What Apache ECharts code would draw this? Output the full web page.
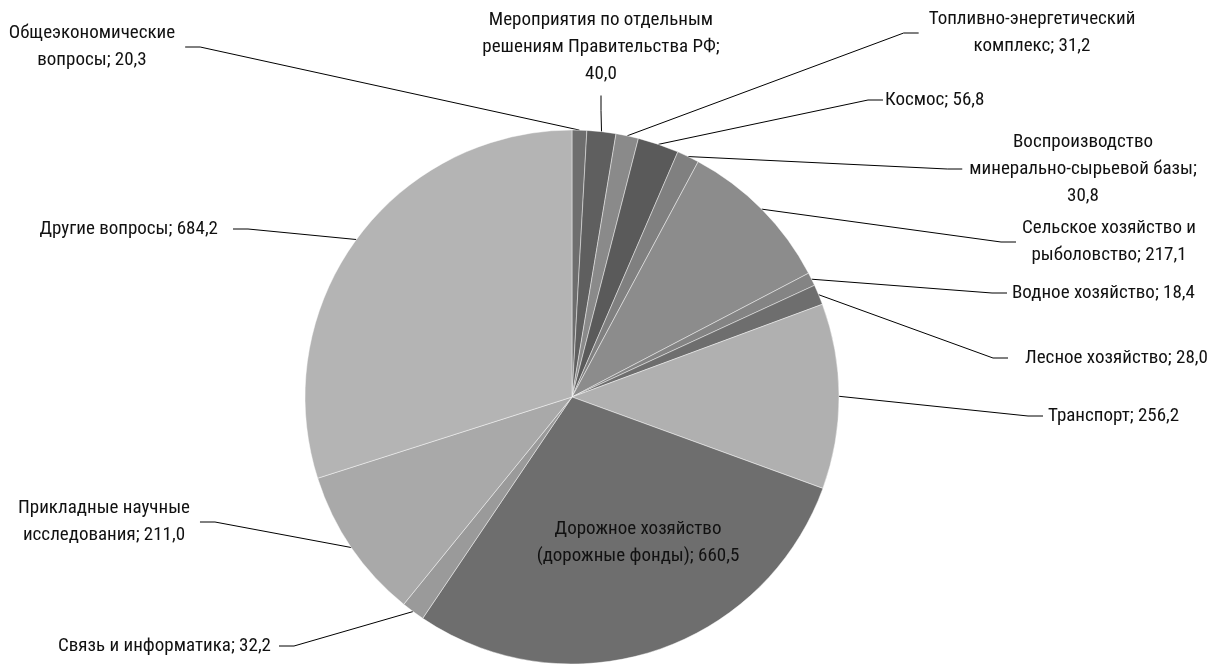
<!DOCTYPE html>
<html>
<head>
<meta charset="utf-8">
<script src="https://cdn.jsdelivr.net/npm/echarts@6/dist/echarts.min.js"></script>
<style>
html,body{margin:0;padding:0;background:#fff;}
#chart{width:1209px;height:664px;}
</style>
</head>
<body>
<div id="chart"></div>
<script>
// Categories (clockwise from 12 o'clock); "\n" marks the line wraps of the label
const categories = [
  'Общеэкономические\nвопросы',
  'Мероприятия по отдельным\nрешениям Правительства РФ',
  'Топливно-энергетический\nкомплекс',
  'Космос',
  'Воспроизводство\nминерально-сырьевой базы',
  'Сельское хозяйство и\nрыболовство',
  'Водное хозяйство',
  'Лесное хозяйство',
  'Транспорт',
  'Дорожное хозяйство\n(дорожные фонды)',
  'Связь и информатика',
  'Прикладные научные\nисследования',
  'Другие вопросы'
];
const values = [20.3, 40.0, 31.2, 56.8, 30.8, 217.1, 18.4, 28.0, 256.2, 660.5, 32.2, 211.0, 684.2];
// labels whose value goes on its own line
const valueOnNewLine = [1, 4];
const sliceColors = ['#6e6e6e', '#5f5f5f', '#8a8a8a', '#5a5a5a', '#808080', '#8c8c8c',
  '#848484', '#6e6e6e', '#b0b0b0', '#6e6e6e', '#9a9a9a', '#a9a9a9', '#b4b4b4'];
// label box anchor: [x, y, align, vertical padding, horizontal padding]
const labelPos = [
  [92, 47, 'center', 0, 10],
  [601, 47, 'center', 8, 0],
  [1032, 33, 'center', 0, 10],
  [883, 100, 'left', 0, 2],
  [1083, 169, 'center', 0, 7],
  [1109, 242, 'center', 0, 6],
  [1007, 293, 'left', 0, 5],
  [1008, 358, 'left', 0, 17],
  [1043, 416, 'left', 0, 5],
  [638, 543, 'center', 0, 0],
  [279, 646, 'right', 0, 8],
  [104, 522, 'center', 0, 10],
  [233, 229, 'right', 0, 15]
];
const insideIndex = 9;

const fontFamily = '"Liberation Sans Narrow", "Roboto Condensed", "DejaVu Sans Condensed", "Liberation Sans", sans-serif';

function fmt(v) { return v.toFixed(1).replace('.', ','); }

const chart = echarts.init(document.getElementById('chart'), null, {renderer: 'canvas'});
chart.setOption({
  backgroundColor: '#ffffff',
  animation: false,
  series: [{
    type: 'pie',
    center: [572, 397],
    radius: 267,
    startAngle: 90,
    clockwise: true,
    avoidLabelOverlap: false,
    itemStyle: {borderColor: 'rgba(255,255,255,0.55)', borderWidth: 0.8},
    label: {
      show: true,
      position: 'outside',
      color: '#111',
      fontFamily: fontFamily,
      fontSize: 19,
      lineHeight: 27,
      backgroundColor: 'rgba(255,255,255,0)',
      formatter: function (p) {
        const sep = valueOnNewLine.indexOf(p.dataIndex) >= 0 ? ';\n' : '; ';
        return p.name + sep + fmt(p.value);
      }
    },
    labelLine: {
      show: true,
      length: 10,
      length2: 15,
      minTurnAngle: 0,
      lineStyle: {color: '#000', width: 1}
    },
    labelLayout: function (params) {
      const p = labelPos[params.dataIndex];
      return {x: p[0], y: p[1], align: p[2], verticalAlign: 'middle'};
    },
    emphasis: {disabled: true},
    data: categories.map(function (c, i) {
      const p = labelPos[i];
      const item = {
        name: c,
        value: values[i],
        itemStyle: {color: sliceColors[i]},
        label: {padding: [p[3], p[4]]}
      };
      if (i === insideIndex) {
        item.label = {position: 'inside', backgroundColor: 'transparent', padding: 0};
        item.labelLine = {show: false};
      }
      return item;
    })
  }]
});
</script>
</body>
</html>
